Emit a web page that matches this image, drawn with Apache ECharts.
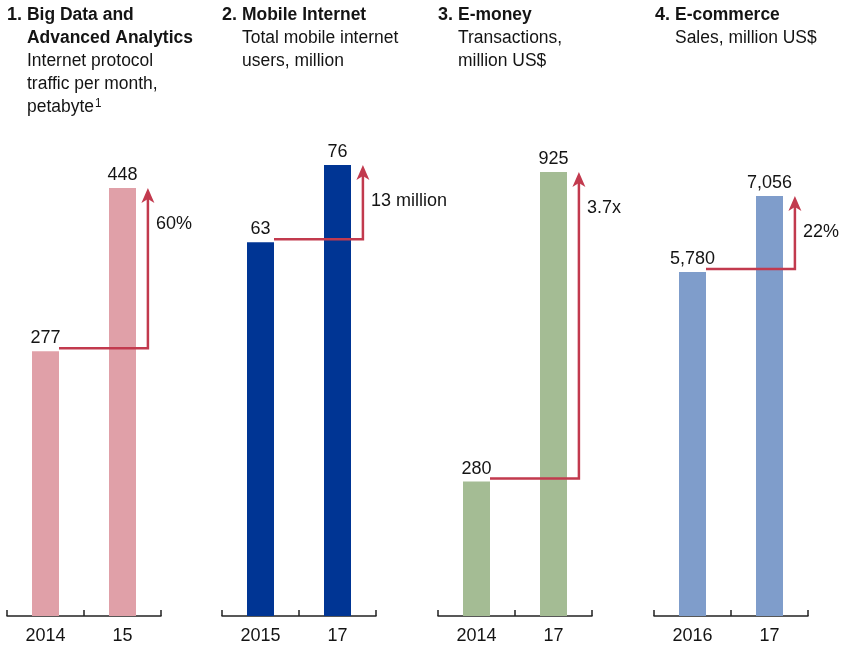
<!DOCTYPE html>
<html>
<head>
<meta charset="utf-8">
<script src="https://cdn.jsdelivr.net/npm/echarts@6/dist/echarts.min.js"></script>
<style>
  html, body { margin: 0; padding: 0; background: #fff; }
  #chart { width: 841px; height: 647px; }
</style>
</head>
<body>
<div id="chart"></div>
<script>
const panelNumbers = ['1.', '2.', '3.', '4.']
const panelTitles = [['Big Data and', 'Advanced Analytics'], ['Mobile Internet'], ['E-money'], ['E-commerce']]
const panelSubtitles = [
  ['Internet protocol', 'traffic per month,', 'petabyte'],
  ['Total mobile internet', 'users, million'],
  ['Transactions,', 'million US$'],
  ['Sales, million US$']
]
const footnoteMarks = ['1', '', '', '']
const bigDataYears = ['2014', '15']
const bigDataValues = [277, 448]
const mobileYears = ['2015', '17']
const mobileValues = [63, 76]
const emoneyYears = ['2014', '17']
const emoneyValues = [280, 925]
const ecommerceYears = ['2016', '17']
const ecommerceValues = [5780, 7056]
const changeLabels = ['60%', '13 million', '3.7x', '22%']

const categories = [bigDataYears, mobileYears, emoneyYears, ecommerceYears]
const values = [bigDataValues, mobileValues, emoneyValues, ecommerceValues]
const barColors = ['#e0a0a8', '#003594', '#a4bc94', '#7f9dcb']
const arrowColor = '#c23a4e'
const textColor = '#141414'
const font = '"Liberation Sans", Arial, sans-serif'

// layout of the four panels
const gridLeft = [7, 222, 438, 654]
const gridWidth = 154
const gridTop = [188, 165, 172, 196]
const titleLeft = [7, 222, 438, 655]
const barWidth = 27

const chart = echarts.init(document.getElementById('chart'))

const grid = gridLeft.map((left, i) => ({
  left, width: gridWidth, top: gridTop[i], bottom: 31, outerBoundsMode: 'none'
}))

const xAxis = categories.map((cats, i) => ({
  type: 'category',
  gridIndex: i,
  data: cats,
  axisLine: { lineStyle: { color: '#222', width: 1.5 } },
  axisTick: { show: true, interval: 0, inside: true, length: 6, lineStyle: { color: '#222', width: 1.5 } },
  axisLabel: { color: textColor, fontFamily: font, fontSize: 18, margin: 11 }
}))

const yAxis = values.map((vals, i) => ({
  type: 'value',
  gridIndex: i,
  min: 0,
  max: Math.max(...vals),
  show: false,
  splitLine: { show: false }
}))

const barSeries = values.map((vals, i) => ({
  type: 'bar',
  xAxisIndex: i,
  yAxisIndex: i,
  data: vals,
  barWidth,
  itemStyle: { color: barColors[i] },
  label: {
    show: true,
    position: 'top',
    distance: 4,
    color: textColor,
    fontFamily: font,
    fontSize: 18,
    formatter: (p) => p.value.toLocaleString('en-US')
  },
  silent: true,
  z: 2
}))

const arrowSeries = values.map((vals, i) => ({
  type: 'custom',
  xAxisIndex: i,
  yAxisIndex: i,
  coordinateSystem: 'cartesian2d',
  encode: { x: 0, y: [1, 2] },
  data: [[0, vals[0], vals[1]]],
  silent: true,
  z: 5,
  renderItem(params, api) {
    const p1 = api.coord([0, api.value(1)])
    const p2 = api.coord([1, api.value(2)])
    const band = api.size([1, 0])[0]
    const xs = p1[0] + barWidth / 2
    const xv = p2[0] + band * 0.33
    const y1 = p1[1] - 3
    const tip = p2[1]
    return {
      type: 'group',
      children: [
        {
          type: 'polyline',
          shape: { points: [[xs, y1], [xv, y1], [xv, tip + 10]] },
          style: { stroke: arrowColor, lineWidth: 2.5, fill: null }
        },
        {
          type: 'polygon',
          shape: { points: [[xv, tip], [xv - 6.5, tip + 15], [xv, tip + 11], [xv + 6.5, tip + 15]] },
          style: { fill: arrowColor }
        },
        {
          type: 'text',
          x: xv + 8,
          y: tip + 36,
          style: {
            text: changeLabels[i],
            fill: textColor,
            font: '18px ' + font,
            verticalAlign: 'middle',
            align: 'left'
          }
        }
      ]
    }
  }
}))

const graphic = []
titleLeft.forEach((x, i) => {
  graphic.push({
    type: 'text',
    x,
    y: 4,
    style: { text: panelNumbers[i], fill: textColor, font: 'bold 18px ' + font, lineHeight: 23 }
  })
  const lines = panelTitles[i].map((t) => ({ t, bold: true }))
    .concat(panelSubtitles[i].map((t) => ({ t, bold: false })))
  lines.forEach((line, k) => {
    const last = k === lines.length - 1
    const el = {
      type: 'text',
      x: x + 20,
      y: 4 + k * 23,
      scaleX: 0.97,
      style: {
        text: line.t,
        fill: textColor,
        font: (line.bold ? 'bold ' : '') + '18px ' + font,
        lineHeight: 23
      }
    }
    if (last && footnoteMarks[i]) {
      el.style.text = `{n|${line.t}}{sup|${footnoteMarks[i]}}`
      el.style.rich = {
        n: { font: '18px ' + font, lineHeight: 23, fill: textColor },
        sup: { font: '12px ' + font, lineHeight: 23, fill: textColor, verticalAlign: 'top', padding: [2, 0, 0, 1] }
      }
    }
    graphic.push(el)
  })
})

chart.setOption({
  animation: false,
  backgroundColor: '#fff',
  grid,
  xAxis,
  yAxis,
  graphic,
  series: barSeries.concat(arrowSeries)
})
</script>
</body>
</html>
